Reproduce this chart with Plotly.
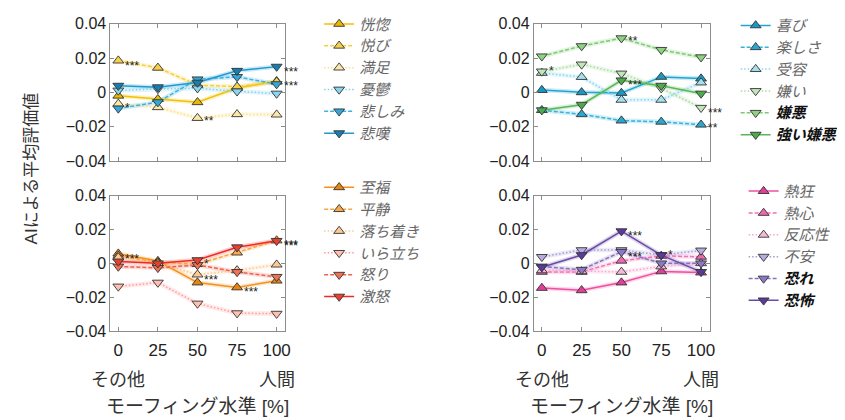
import plotly.graph_objects as go

W, H = 845, 420
FONT = "Liberation Sans, Arial, Noto Sans CJK JP, sans-serif"
LEGFONT = "Noto Sans CJK JP, Liberation Sans, sans-serif"

# ---------------- data ----------------
X = [0, 25, 50, 75, 100]
XTICK_LABELS = ["0", "25", "50", "75", "100"]
YTICKS = [-0.04, -0.02, 0, 0.02, 0.04]
YTICK_LABELS = ["−0.04", "−0.02", "0", "0.02", "0.04"]

# top-left panel
p1_names = ["恍惚", "悦び", "満足", "憂鬱", "悲しみ", "悲嘆"]
ecstasy = [-0.0020, -0.0040, -0.0058, 0.0025, 0.0065]
delight = [0.0185, 0.0143, 0.0042, 0.0033, 0.0062]
contentment = [-0.0067, -0.0087, -0.0150, -0.0128, -0.0130]
melancholy = [0.0011, 0.0020, 0.0024, 0.0006, -0.0007]
sadness = [-0.0094, -0.0057, 0.0076, 0.0090, 0.0048]
grief = [0.0039, 0.0030, 0.0057, 0.0126, 0.0150]

# top-right panel
p2_names = ["喜び", "楽しさ", "受容", "嫌い", "嫌悪", "強い嫌悪"]
joy = [0.0013, 0.0000, -0.0004, 0.0090, 0.0080]
fun = [-0.0104, -0.0128, -0.0165, -0.0172, -0.0189]
acceptance = [0.0113, 0.0089, -0.0044, -0.0044, 0.0057]
dislike = [0.0122, 0.0163, 0.0110, 0.0024, -0.0090]
disgust = [0.0210, 0.0270, 0.0316, 0.0248, 0.0205]
loathing = [-0.0104, -0.0072, 0.0070, 0.0039, -0.0007]

# bottom-left panel
p3_names = ["至福", "平静", "落ち着き", "いら立ち", "怒り", "激怒"]
bliss = [0.0057, 0.0013, -0.0114, -0.0143, -0.0103]
serenity = [0.0044, 0.0006, -0.0005, 0.0063, 0.0135]
calm = [0.0034, 0.0000, -0.0067, -0.0042, -0.0008]
irritation = [-0.0137, -0.0114, -0.0238, -0.0295, -0.0298]
anger = [-0.0019, -0.0027, -0.0010, -0.0051, -0.0080]
rage = [0.0011, 0.0000, 0.0019, 0.0095, 0.0133]

# bottom-right panel
p4_names = ["熱狂", "熱心", "反応性", "不安", "恐れ", "恐怖"]
mania = [-0.0146, -0.0160, -0.0114, -0.0048, -0.0055]
eagerness = [-0.0051, -0.0051, 0.0015, 0.0044, 0.0038]
responsiveness = [-0.0042, -0.0048, -0.0051, -0.0019, 0.0000]
anxiety = [0.0038, 0.0078, 0.0078, 0.0049, 0.0076]
fear = [-0.0019, -0.0038, 0.0068, 0.0000, 0.0000]
terror = [-0.0023, 0.0049, 0.0190, 0.0048, -0.0051]

# significance marks: (series index, x index, text)
p1_stars = [(1, 0, "***"), (4, 0, "*"), (2, 2, "**"), (5, 4, "***"), (0, 4, "***")]
p2_stars = [(3, 0, "*"), (4, 2, "**"), (5, 2, "***"), (3, 4, "***"), (1, 4, "**")]
p3_stars = [(0, 0, "***"), (1, 2, "*"), (2, 2, "***"), (0, 3, "***"), (1, 4, "***"), (5, 4, "***")]
p4_stars = [(5, 2, "***"), (4, 2, "***"), (5, 3, "*")]

# ---------------- styles ----------------
DASHES = ["solid", "4px,2px", "1.5px,2px", "1.5px,2px", "4px,2px", "solid"]
SYMS = ["triangle-up"] * 3 + ["triangle-down"] * 3

panels = [
    dict(names=p1_names, series=[ecstasy, delight, contentment, melancholy, sadness, grief],
         lines=["#F2C100", "#F8CF3A", "#FBE08A", "#7FD3F0", "#3BB2E2", "#1F9AD0"],
         fills=["#E9B800", "#F7D04A", "#FBE7A8", "#8AD6F0", "#33A8D8", "#177FB0"],
         bold=[False] * 6, stars=p1_stars, dom=(103, 279, 5, 149), legxy=(313, -12)),
    dict(names=p2_names, series=[joy, fun, acceptance, dislike, disgust, loathing],
         lines=["#1FA6D0", "#33B3DA", "#86D8EE", "#A9DCA0", "#7CCB70", "#58B858"],
         fills=["#1A98C4", "#2AA7D0", "#A6E0EF", "#C2E6BA", "#8ED282", "#4DAA4D"],
         bold=[False, False, False, False, True, True], stars=p2_stars,
         dom=(529, 706, 5, 149), legxy=(732, -10)),
    dict(names=p3_names, series=[bliss, serenity, calm, irritation, anger, rage],
         lines=["#F7901A", "#F9A43E", "#FFC98C", "#FF9C9C", "#F0604D", "#EE2A24"],
         fills=["#E8850F", "#F6A84A", "#FCCB95", "#FFC0B0", "#F07058", "#E8402F"],
         bold=[False] * 6, stars=p3_stars, dom=(103, 279, 185.5, 327.5), legxy=(313, 160)),
    dict(names=p4_names, series=[mania, eagerness, responsiveness, anxiety, fear, terror],
         lines=["#EE4FA0", "#F272B5", "#F7A8D0", "#A99CD6", "#8A70C0", "#6A4AA8"],
         fills=["#E0409A", "#EE6AB0", "#F4BAD8", "#B8ACDE", "#8C78C8", "#5B3A9E"],
         bold=[False, False, False, False, True, True], stars=p4_stars,
         dom=(529, 706, 185.5, 327.5), legxy=(740, 164)),
]


def rgba(hex_color, a):
    h = hex_color.lstrip("#")
    r, g, b = int(h[0:2], 16), int(h[2:4], 16), int(h[4:6], 16)
    return f"rgba({r},{g},{b},{a})"


fig = go.Figure()
annotations = []
layout = {}

for pi, p in enumerate(panels):
    k = "" if pi == 0 else str(pi + 1)
    xref, yref = "x" + k, "y" + k
    legname = "legend" + k
    x0, x1, y0, y1 = p["dom"]
    bottom = pi >= 2
    layout["xaxis" + k] = dict(
        domain=[x0 / W, x1 / W], anchor=yref, range=[-5, 105.5],
        tickvals=X, ticktext=XTICK_LABELS, showticklabels=bottom,
        ticks="inside", ticklen=4, tickcolor="#8c8c8c", mirror="ticks",
        showline=True, linecolor="#8c8c8c", linewidth=1, showgrid=False, zeroline=False,
        ticklabelstandoff=4,
        tickfont=dict(family=FONT, size=17, color="#222"))
    layout["yaxis" + k] = dict(
        domain=[1 - y1 / H, 1 - y0 / H], anchor=xref, range=[-0.04, 0.04],
        tickvals=YTICKS, ticktext=YTICK_LABELS,
        ticks="inside", ticklen=4, tickcolor="#8c8c8c", mirror="ticks",
        showline=True, linecolor="#8c8c8c", linewidth=1, showgrid=False, zeroline=False,
        tickfont=dict(family=FONT, size=16, color="#222"))
    lx, ly = p["legxy"]
    layout[legname] = dict(
        x=lx / W, y=1 - ly / H, xanchor="left", yanchor="top",
        bgcolor="rgba(0,0,0,0)", borderwidth=0, itemwidth=30,
        font=dict(family=LEGFONT, size=14.5, color="#666", style="italic"), tracegroupgap=0)

    # halos
    for si, ys in enumerate(p["series"]):
        fig.add_trace(go.Scatter(
            x=X, y=ys, xaxis=xref, yaxis=yref, mode="lines",
            line=dict(color=rgba(p["lines"][si], 0.22), width=4.5),
            showlegend=False, hoverinfo="skip"))
    for si, ys in enumerate(p["series"]):
        nm = p["names"][si]
        if p["bold"][si]:
            label = f"<span style='font-size:15px;color:#111;font-style:italic'><b><i>{nm}</i></b></span>"
        else:
            label = f"<span style='font-size:15px;font-style:italic'><i>{nm}</i></span>"
        fig.add_trace(go.Scatter(
            x=X, y=ys, xaxis=xref, yaxis=yref, mode="lines+markers", name=label,
            legend=legname,
            line=dict(color=p["lines"][si], width=1.5, dash=DASHES[si]),
            marker=dict(symbol=SYMS[si], size=9.5, color=p["fills"][si],
                        line=dict(color="#333", width=0.9))))
    for (si, xi, txt) in p["stars"]:
        ys = -5 if len(txt) == 3 else (0 if len(txt) == 1 else -3)
        annotations.append(dict(
            x=X[xi], y=p["series"][si][xi], xref=xref, yref=yref, text=txt,
            showarrow=False, xanchor="left", xshift=5, yshift=ys,
            font=dict(family=FONT, size=12, color="#222")))

    if bottom:
        for xv, txt in [(0, "その他"), (100, "人間")]:
            annotations.append(dict(
                x=xv, y=1 - 379 / H, xref=xref, yref="paper", text=txt,
                showarrow=False, xanchor="center", yanchor="middle",
                font=dict(family=FONT, size=18, color="#333")))
        annotations.append(dict(
            x=(x0 + x1) / 2 / W, y=1 - 407 / H, xref="paper", yref="paper",
            text="モーフィング水準 [%]", showarrow=False, xanchor="center", yanchor="middle",
            font=dict(family=FONT, size=19, color="#333")))

annotations.append(dict(
    x=24 / W, y=1 - 157 / H, xref="paper", yref="paper", text="AIによる平均評価値",
    textangle=-90, showarrow=False, xanchor="center", yanchor="middle",
    font=dict(family=FONT, size=17, color="#333")))

fig.update_layout(
    width=W, height=H, margin=dict(l=0, r=0, t=0, b=0),
    paper_bgcolor="white", plot_bgcolor="white",
    annotations=annotations, **layout)

fig.write_html("out.html")
